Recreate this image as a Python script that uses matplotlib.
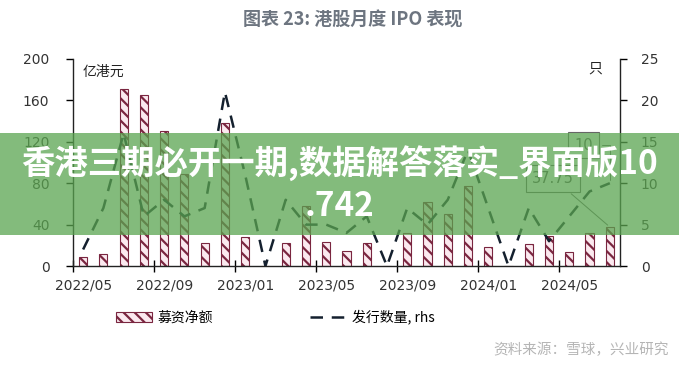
import matplotlib
matplotlib.use("Agg")
import matplotlib.pyplot as plt
import numpy as np

plt.rcParams["font.family"] = ["Noto Sans CJK SC", "DejaVu Sans"]
plt.rcParams["hatch.linewidth"] = 1.6

# monthly data, 2022/05 .. 2024/07
months = [
    "2022/05", "2022/06", "2022/07", "2022/08", "2022/09", "2022/10", "2022/11",
    "2022/12", "2023/01", "2023/02", "2023/03", "2023/04", "2023/05", "2023/06",
    "2023/07", "2023/08", "2023/09", "2023/10", "2023/11", "2023/12", "2024/01",
    "2024/02", "2024/03", "2024/04", "2024/05", "2024/06", "2024/07",
]
raised = [8.5, 12, 171, 165, 130, 89, 22, 138, 28, 0, 22, 58, 23, 15, 22, 0,
          32, 62, 50, 77, 18, 0, 21, 29, 14, 32, 37.75]
ipo_count = [2, 7, 16, 6, 8, 6, 7, 21, 11, 0, 8, 5, 5, 4, 6, 0, 7, 5, 8, 14, 7,
             0, 7, 3, 6, 9, 10]

bar_face = "#fbe9ef"
bar_edge = "#7a2640"
line_col = "#14202e"
grey_txt = "#333333"

x = np.arange(len(months))

fig = plt.figure(figsize=(6.79, 3.68), dpi=100)
ax = fig.add_axes([0.1075, 0.277, 0.8055, 0.563])
ax2 = ax.twinx()

ax.bar(x, raised, width=0.4, color=bar_face, edgecolor=bar_edge, hatch="\\\\\\",
       linewidth=0.8, label="募资净额")
ax2.plot(x, ipo_count, color=line_col, linewidth=1.8, linestyle=(0, (5, 3.5)),
         label="发行数量, rhs")

ax.set_xlim(-0.5, len(months) - 0.5)
ax.set_ylim(0, 200)
ax2.set_ylim(0, 25)
ax.set_yticks(np.arange(0, 201, 40))
ax2.set_yticks(np.arange(0, 26, 5))

ax.set_xticks(np.arange(-0.5, len(months), 4))
ax.set_xticklabels([])
ax.set_xticks(x[::4], minor=True)
ax.set_xticklabels(months[::4], minor=True, family="DejaVu Sans", fontsize=10,
                   color=grey_txt)
ax.tick_params(axis="x", which="minor", length=0, pad=9)
ax.tick_params(axis="x", which="major", direction="inout", length=8, width=1)
ax.tick_params(axis="y", direction="out", length=5, width=1, labelsize=10,
               labelcolor=grey_txt, pad=12)
ax2.tick_params(axis="y", direction="out", length=5, width=1, labelsize=10,
                labelcolor=grey_txt, pad=10)
for lab in ax.get_yticklabels() + ax2.get_yticklabels():
    lab.set_family("DejaVu Sans")

for a in (ax, ax2):
    a.spines["top"].set_visible(False)
    for s in ("left", "right", "bottom"):
        a.spines[s].set_color("#222222")
        a.spines[s].set_linewidth(1.0)
ax.spines["right"].set_visible(False)
ax2.spines["left"].set_visible(False)
ax2.spines["bottom"].set_visible(False)

ax.text(0.018, 0.97, "亿港元", transform=ax.transAxes, fontsize=10,
        color="#222222", va="top", ha="left")
ax2.text(0.955, 0.985, "只", transform=ax.transAxes, fontsize=10,
         color="#222222", va="top", ha="center")

# labels on the last month
box = dict(boxstyle="square,pad=0.4", fc="none", ec="#666666", lw=0.8)
ax2.annotate(f"{ipo_count[-1]}", xy=(x[-1], ipo_count[-1]), xytext=(24.7, 14.6),
             fontsize=10.5, color="#555555", ha="center", va="center",
             family="DejaVu Sans", bbox=box,
             arrowprops=dict(arrowstyle="-", color="#666666", lw=0.7,
                             connectionstyle="angle,angleA=0,angleB=90,rad=0"))
ax2.annotate(f"{raised[-1]:.2f}", xy=(x[-1], raised[-1] / 8), xytext=(23.2, 10.6),
             fontsize=10.5, color="#555555", ha="center", va="center",
             family="DejaVu Sans", bbox=box,
             arrowprops=dict(arrowstyle="-", color="#666666", lw=0.7))

fig.text(0.52, 0.945, "图表 23: 港股月度 IPO 表现", ha="center", va="center",
         fontsize=13, fontweight="bold", color="#6d7580")

h1, l1 = ax.get_legend_handles_labels()
h2, l2 = ax2.get_legend_handles_labels()
fig.legend(h1 + h2, l1 + l2, loc="center", bbox_to_anchor=(0.405, 0.138),
           ncol=2, frameon=False, fontsize=10, handlelength=2.6,
           handleheight=0.8, columnspacing=7, handletextpad=0.4)

fig.text(0.985, 0.05, "资料来源：雪球，兴业研究", ha="right", va="center",
         fontsize=10.5, color="#b5b5b5")

# green overlay banner
fig.patches.append(plt.Rectangle((0, 0.361), 1, 0.277, transform=fig.transFigure,
                                 facecolor="#5aa450", alpha=0.75, zorder=10,
                                 edgecolor="none"))
fig.text(0.5, 0.555, "香港三期必开一期,数据解答落实_界面版10", ha="center",
         va="center", fontsize=24, fontweight="bold", color="white", zorder=11)
fig.text(0.5, 0.44, ".742", ha="center", va="center", fontsize=24,
         fontweight="bold", color="white", zorder=11)

fig.savefig("out.png", dpi=100)
